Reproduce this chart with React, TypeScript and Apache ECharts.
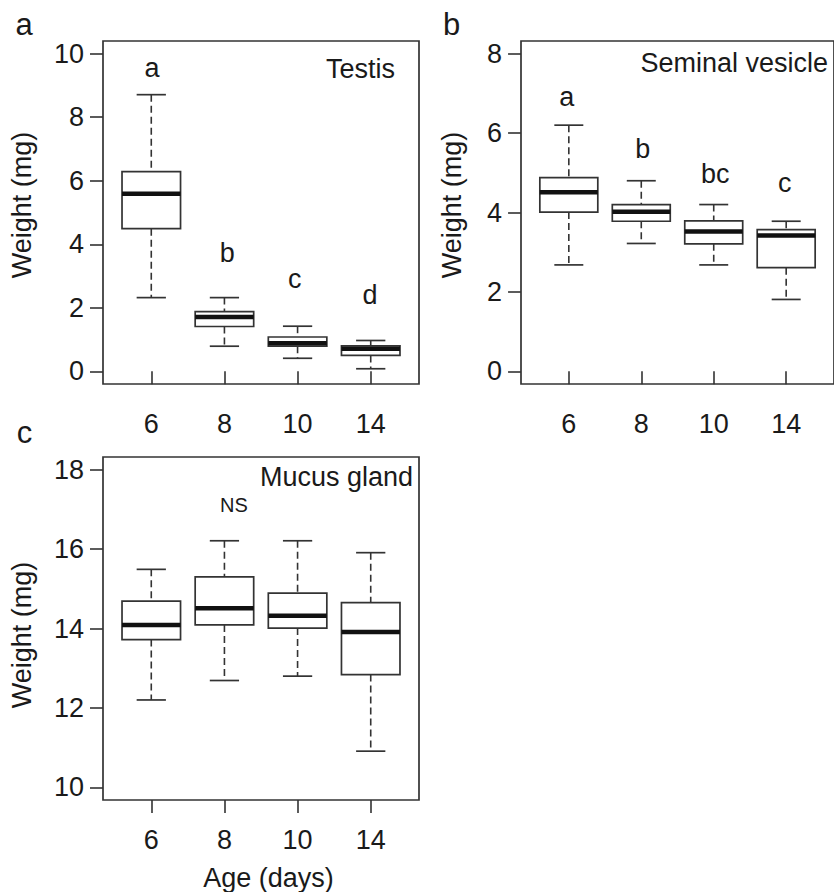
import React, { useEffect, useRef } from "react";
import * as echarts from "echarts";

const FONT = "'Liberation Sans', Arial, Helvetica, sans-serif";
const TEXT = "#1a1a1a";
const LINE = "#333333";
const FS = 27;

// x categories (ages) at box positions 1..4
const ages = ["6", "8", "10", "14"];
const positions = [1, 2, 3, 4];

// box statistics per age: [lower whisker, Q1, median, Q3, upper whisker]
const testisStats = [
  [2.32, 4.49, 5.59, 6.29, 8.71],
  [0.79, 1.41, 1.71, 1.88, 2.32],
  [0.41, 0.79, 0.88, 1.08, 1.42],
  [0.08, 0.5, 0.71, 0.8, 0.97],
];
const seminalStats = [
  [2.68, 4.01, 4.51, 4.88, 6.2],
  [3.22, 3.78, 4.02, 4.2, 4.8],
  [2.68, 3.21, 3.52, 3.79, 4.2],
  [1.81, 2.61, 3.42, 3.57, 3.78],
];
const mucusStats = [
  [12.2, 13.72, 14.09, 14.69, 15.49],
  [12.69, 14.09, 14.51, 15.3, 16.21],
  [12.8, 14.01, 14.32, 14.89, 16.21],
  [10.91, 12.84, 13.91, 14.65, 15.91],
];

// significance letters
const testisLetters = ["a", "b", "c", "d"];
const testisLetterX = [1.01, 2.04, 2.96, 3.99];
const testisLetterY = [9.56, 3.72, 2.9, 2.41];
const seminalLetters = ["a", "b", "bc", "c"];
const seminalLetterX = [0.97, 2.02, 3.02, 3.98];
const seminalLetterY = [6.92, 5.61, 4.97, 4.74];
const mucusLetters = ["NS"];
const mucusLetterX = [2.13];
const mucusLetterY = [17.11];

// y tick values
const testisTicks = [0, 2, 4, 6, 8, 10];
const seminalTicks = [0, 2, 4, 6, 8];
const mucusTicks = [10, 12, 14, 16, 18];

const panelTitles = ["Testis", "Seminal vesicle", "Mucus gland"];
const panelLetters = ["a", "b", "c"];
const yTitle = "Weight (mg)";
const xTitle = "Age (days)";

function renderBox(params: any, api: any) {
  const x = api.value(0);
  const lo = api.coord([x, api.value(1)]);
  const q1 = api.coord([x, api.value(2)]);
  const md = api.coord([x, api.value(3)]);
  const q3 = api.coord([x, api.value(4)]);
  const hi = api.coord([x, api.value(5)]);
  const half = api.size([0.4, 0])[0];
  const cap = api.size([0.2, 0])[0];
  const cx = lo[0];
  const dash = { stroke: LINE, lineWidth: 1.6, lineDash: [7, 4], fill: null };
  const solid = { stroke: LINE, lineWidth: 1.7, fill: null };
  return {
    type: "group",
    children: [
      { type: "line", shape: { x1: cx, y1: hi[1], x2: cx, y2: q3[1] }, style: dash },
      { type: "line", shape: { x1: cx, y1: q1[1], x2: cx, y2: lo[1] }, style: dash },
      { type: "line", shape: { x1: cx - cap, y1: hi[1], x2: cx + cap, y2: hi[1] }, style: solid },
      { type: "line", shape: { x1: cx - cap, y1: lo[1], x2: cx + cap, y2: lo[1] }, style: solid },
      {
        type: "rect",
        shape: { x: cx - half, y: q3[1], width: half * 2, height: q1[1] - q3[1] },
        style: { fill: "#ffffff", stroke: LINE, lineWidth: 1.7 },
      },
      {
        type: "line",
        shape: { x1: cx - half, y1: md[1], x2: cx + half, y2: md[1] },
        style: { stroke: "#111111", lineWidth: 4.5 },
      },
    ],
  };
}

function letterRenderer(letters: string[], size: number) {
  return (params: any, api: any) => {
    const p = api.coord([api.value(0), api.value(1)]);
    return {
      type: "text",
      x: p[0],
      y: p[1],
      style: {
        text: letters[params.dataIndex],
        fill: TEXT,
        fontSize: size,
        fontFamily: FONT,
        align: "center",
        verticalAlign: "middle",
        textAlign: "center",
        textVerticalAlign: "middle",
      },
    };
  };
}

function txt(text: string, x: number, y: number, size: number, align: string, rotation = 0) {
  return {
    type: "text",
    x,
    y,
    rotation,
    style: {
      text,
      fill: TEXT,
      fontSize: size,
      fontFamily: FONT,
      align,
      verticalAlign: "middle",
      textAlign: align,
      textVerticalAlign: "middle",
    },
  };
}

export default function App() {
  const ref = useRef<HTMLDivElement>(null);

  useEffect(() => {
    if (!ref.current) return;
    const chart = echarts.init(ref.current, null, { renderer: "svg" });

    const grids = [
      { left: 103, top: 41, width: 316, height: 343 },
      { left: 521, top: 41, width: 317.5, height: 343 },
      { left: 103, top: 457, width: 316, height: 343 },
    ];
    const yRanges = [
      { min: -0.4, max: 10.4, ticks: testisTicks },
      { min: -0.32, max: 8.32, ticks: seminalTicks },
      { min: 9.68, max: 18.32, ticks: mucusTicks },
    ];
    const statsList = [testisStats, seminalStats, mucusStats];
    const letterSets = [
      { l: testisLetters, x: testisLetterX, y: testisLetterY, size: FS },
      { l: seminalLetters, x: seminalLetterX, y: seminalLetterY, size: FS },
      { l: mucusLetters, x: mucusLetterX, y: mucusLetterY, size: 20 },
    ];

    const option: any = {
      animation: false,
      grid: grids.map((g) => ({
        ...g,
        show: true,
        borderColor: LINE,
        borderWidth: 1.7,
        backgroundColor: "transparent",
        containLabel: false,
      })),
      xAxis: grids.map((_, i) => ({
        type: "value",
        gridIndex: i,
        min: 0.34,
        max: 4.66,
        axisLine: { show: false },
        splitLine: { show: false },
        axisTick: {
          show: true,
          length: 13,
          inside: false,
          customValues: positions,
          lineStyle: { color: LINE, width: 1.6 },
        },
        axisLabel: {
          show: true,
          customValues: positions,
          formatter: (v: number) => ages[Math.round(v) - 1],
          color: TEXT,
          fontSize: FS,
          fontFamily: FONT,
          margin: 40,
          verticalAlign: "middle",
        },
      })),
      yAxis: yRanges.map((r, i) => ({
        type: "value",
        gridIndex: i,
        min: r.min,
        max: r.max,
        axisLine: { show: false },
        splitLine: { show: false },
        axisTick: {
          show: true,
          length: 13,
          inside: false,
          customValues: r.ticks,
          lineStyle: { color: LINE, width: 1.6 },
        },
        axisLabel: {
          show: true,
          customValues: r.ticks,
          color: TEXT,
          fontSize: FS,
          fontFamily: FONT,
          margin: 19,
        },
      })),
      series: [
        ...statsList.map((stats, i) => ({
          type: "custom",
          xAxisIndex: i,
          yAxisIndex: i,
          renderItem: renderBox,
          data: stats.map((s, k) => [positions[k], ...s]),
          encode: { x: 0, y: [1, 2, 3, 4, 5] },
          silent: true,
        })),
        ...letterSets.map((ls, i) => ({
          type: "custom",
          xAxisIndex: i,
          yAxisIndex: i,
          renderItem: letterRenderer(ls.l, ls.size),
          data: ls.l.map((_, k) => [ls.x[k], ls.y[k]]),
          encode: { x: 0, y: 1 },
          silent: true,
        })),
      ],
      graphic: {
        elements: [
          txt(panelLetters[0], 15.6, 24, 31, "left"),
          txt(panelLetters[1], 443, 24, 31, "left"),
          txt(panelLetters[2], 16.7, 432, 31, "left"),
          txt(panelTitles[0], 395, 69, FS, "right"),
          txt(panelTitles[1], 828, 62.5, FS, "right"),
          txt(panelTitles[2], 413, 477, FS, "right"),
          txt(yTitle, 21.5, 205, FS, "center", Math.PI / 2),
          txt(yTitle, 452, 205, FS, "center", Math.PI / 2),
          txt(yTitle, 21.5, 635, FS, "center", Math.PI / 2),
          txt(xTitle, 268.5, 878, FS, "center"),
        ],
      },
    };

    chart.setOption(option);
    return () => chart.dispose();
  }, []);

  return (
    <div
      ref={ref}
      style={{ position: "absolute", left: 0, top: 0, width: 834, height: 892, background: "#ffffff" }}
    />
  );
}
